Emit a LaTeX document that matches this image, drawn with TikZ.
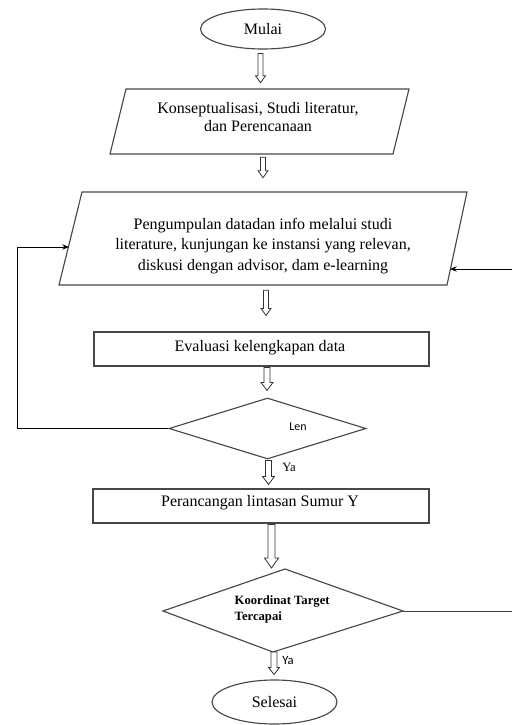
\documentclass[tikz,border=0pt]{standalone}
\usepackage{fontspec}
\setmainfont{Liberation Serif}
\newfontfamily\calib{Carlito}
\usetikzlibrary{shapes.geometric,calc,arrows.meta}
\newdimen\pxu \pxu=0.75pt
% block (hollow) arrow: start, end, shaft half width, head half width, head height (px)
\newcommand\blk[5]{%
  \draw[barrow] let \p1=(#1), \p2=(#2) in
    (\x1-#3\pxu,\y1) -- (\x1-#3\pxu,\y2+#5\pxu) -- (\x1-#4\pxu,\y2+#5\pxu) -- (\x1,\y2)
    -- (\x1+#4\pxu,\y2+#5\pxu) -- (\x1+#3\pxu,\y2+#5\pxu) -- (\x1+#3\pxu,\y1) -- cycle;}
\begin{document}
\begin{tikzpicture}[x=0.75pt,y=-0.75pt,
  outl/.style={draw=black!72, line width=0.85pt},
  barrow/.style={draw=black!80, line width=0.6pt, fill=white},
  maintxt/.style={font=\fontsize{12}{14}\selectfont},
  term/.style={outl, ellipse, minimum width=125\pxu, inner sep=0pt, maintxt},
  proc/.style={outl, rectangle, minimum width=336\pxu, minimum height=34\pxu, inner sep=0pt},
  area/.style={rectangle, inner sep=0pt},
  dec/.style={outl, diamond, inner sep=0pt},
  fb/.style={draw=black, line width=0.75pt, -{Stealth[length=5pt,width=4pt]}},
  fbl/.style={draw=black!75, line width=0.75pt},
]
\useasboundingbox (0,0) rectangle (512,725);

% start
\node[term, minimum height=40\pxu] (mulai) at (263,29) {Mulai};

% parallelogram 1
\node[area, minimum width=283\pxu, minimum height=65\pxu] (kbox) at (259.5,121.5) {};
\draw[outl] (126,89) -- (409,89) -- (393,154) -- (110,154) -- cycle;
\node[maintxt, align=center, font=\fontsize{12}{13.5}\selectfont] (k) at (258,117)
  {Konseptualisasi, Studi literatur,\\dan Perencanaan};

% parallelogram 2
\node[area, minimum width=385\pxu, minimum height=93\pxu] (pbox) at (263.5,238.5) {};
\draw[outl] (82,192) -- (467,192) -- (447,285) -- (59,285) -- cycle;
\node[align=center, font=\fontsize{12}{15.5}\selectfont] (p) at (263,246)
  {Pengumpulan datadan info melalui studi\\literature, kunjungan ke instansi yang relevan,\\diskusi dengan advisor, dam e-learning};

% evaluation
\node[proc, minimum width=335\pxu] (ev) at (261.5,349) {};
\node[maintxt] (evt) at (260,348) {Evaluasi kelengkapan data};

% decision 1
\node[dec, minimum width=197\pxu, minimum height=61\pxu] (d1) at (267.5,428.5) {};
\node[font=\calib\fontsize{9}{11}\selectfont] (len) at (298,427) {Len};
\node[font=\fontsize{9.5}{11}\selectfont] (ya1) at (289,467) {Ya};

% design
\node[proc] (per) at (261,506) {};
\node[maintxt] (pert) at (260,503) {Perancangan lintasan Sumur Y};

% decision 2 (slightly skewed)
\coordinate (d2n) at (285,569);
\coordinate (d2e) at (403,611);
\coordinate (d2s) at (273,652);
\coordinate (d2w) at (163,611);
\draw[outl] (d2n) -- (d2e) -- (d2s) -- (d2w) -- cycle;
\node[anchor=west, align=left, font=\bfseries\fontsize{9.5}{11.5}\selectfont] (kt) at (230,609.5)
  {Koordinat Target\\Tercapai};
\node[font=\calib\fontsize{9.5}{11}\selectfont] (ya2) at (288,660) {Ya};

% end
\node[term, minimum height=44\pxu] (sel) at (274.5,702) {Selesai};

% hollow block arrows
\blk{$(mulai.south)+(-2.5,4)$}{$(kbox.north)+(0,-6)$}{2.5}{5}{7}
\blk{$(kbox.south)+(3.5,3)$}{$(pbox.north)+(0,-14)$}{2.5}{5}{7}
\blk{$(pbox.south)+(2.5,5)$}{$(ev.north)+(0,-16)$}{2.5}{5}{7}
\blk{$(ev.south)+(5.5,1)$}{$(d1.north)+(0,-7)$}{3}{6}{8}
\blk{$(d1.south)+(1,1)$}{$(per.north)+(0,-4)$}{3}{6}{8}
\blk{$(per.south)+(10.5,1)$}{$(d2n)+(0,-1)$}{3.5}{7}{10}
\blk{$(d2s)+(1,0)$}{$(sel.north)+(0,-5)$}{3}{5.5}{7}

% feedback connectors
\coordinate (p2in) at (69,247);
\draw[fb] (d1.west) -- (17,428.5) |- (p2in);
\coordinate (rin) at (512,269);
\coordinate (p2r) at (450,269);
\draw[fb] (rin) -- (p2r);
\coordinate (rout) at (512,611);
\draw[fbl] (d2e) -- (rout);
\end{tikzpicture}
\end{document}
